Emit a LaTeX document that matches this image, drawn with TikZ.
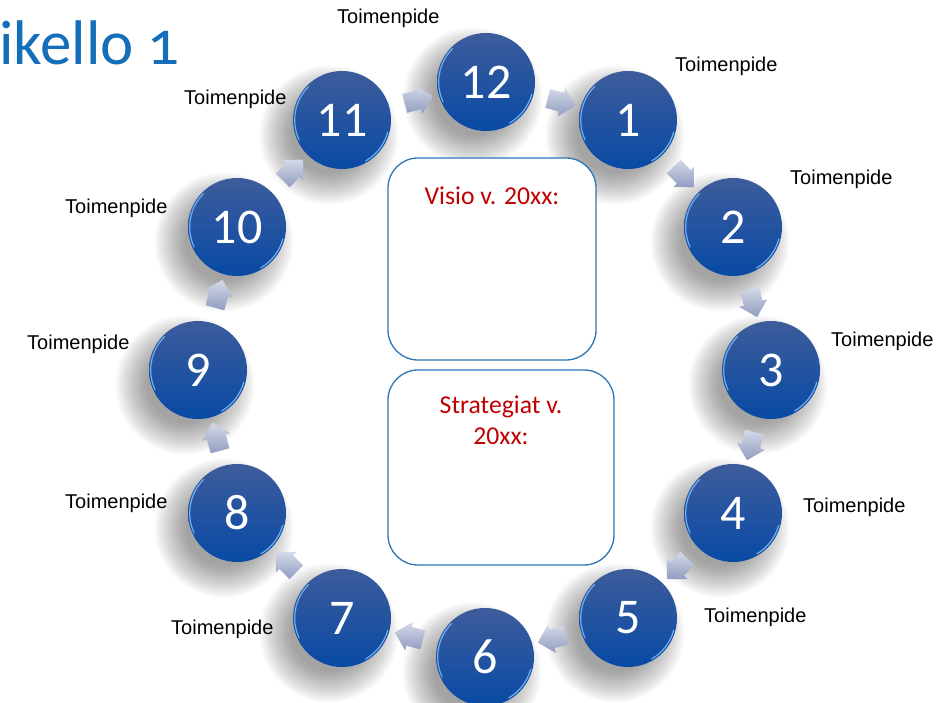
\documentclass[tikz,border=0pt]{standalone}
\usepackage{fontspec}
\setmainfont{Carlito}
\newfontfamily\labelfont{Liberation Sans}
\newfontfamily\titlefont[Numbers=OldStyle]{Carlito}
\usetikzlibrary{shapes.arrows,backgrounds,calc}
\definecolor{titleblue}{RGB}{20,110,185}
\definecolor{circtop}{RGB}{62,92,155}
\definecolor{circbot}{RGB}{8,74,165}
\definecolor{rimblue}{RGB}{110,175,240}
\definecolor{boxblue}{RGB}{46,117,182}
\definecolor{visred}{RGB}{192,0,0}
\definecolor{arrtop}{RGB}{212,217,232}
\definecolor{arrbot}{RGB}{145,156,192}
\definecolor{shadowgray}{RGB}{50,50,50}
\begin{document}
\begin{tikzpicture}[x=1pt,y=-1pt,
  num/.style={circle, minimum size=98pt, inner sep=0pt, top color=circtop, bottom color=circbot,
    text=white, font=\fontsize{50}{50}\selectfont},
  cshadow/.style={fill=shadowgray, fill opacity=0.024},
  lbl/.style={anchor=base west, inner sep=0pt, font=\labelfont\fontsize{20}{20}\selectfont},
  flow/.style={single arrow, sloped, allow upside down, minimum height=29pt,
    single arrow head extend=5pt, inner xsep=0pt, inner ysep=9.5pt, top color=arrtop, bottom color=arrbot, draw=none},
  rim/.style={rimblue, line width=1.2pt, line cap=round},
  panel/.style={draw=boxblue, line width=1.3pt, fill=white, rounded corners=30pt, inner sep=0pt},
  paneltext/.style={text=visred, font=\fontsize{25.7}{32}\selectfont, align=center, inner sep=0pt}]
\useasboundingbox (0,0) rectangle (946,703);
% title
\node[anchor=base west, inner sep=0pt, text=titleblue, font=\titlefont\fontsize{63}{63}\selectfont] (title) at (-1,65) {ikello 1};
% circles
\foreach \n/\x/\y in {12/486/82, 1/628/120, 2/733/227, 3/771/370, 4/733/513, 5/628/618,
  6/485/657, 7/342/618, 8/237/513, 9/198/370, 10/237/227, 11/342/120}
  \node[num] (c\n) at (\x,\y) {\n};
% soft shadows below everything
\begin{scope}[on background layer]
  \fill[white] (0,0) rectangle (946,703);
  \foreach \n in {12,1,2,3,4,5,6,7,8,9,10,11}
    \foreach \r in {38,39.5,...,70}
      \fill[cshadow] (c\n.center) ++(-13,15) circle[radius=\r];
\end{scope}
% rim highlights
\foreach \n in {12,1,2,3,4,5,6,7,8,9,10,11}{
  \draw[rim] (c\n.center) ++(-135:47.3) arc[start angle=-135, end angle=-205, radius=47.3];
  \draw[rim] (c\n.center) ++(15:47.3) arc[start angle=15, end angle=60, radius=47.3];
}
% arrows
\foreach \a/\b in {12/1, 1/2, 2/3, 3/4, 4/5, 5/6, 6/7, 7/8, 8/9, 9/10, 10/11, 11/12}
  \path (c\a) -- (c\b) node[flow, midway] (f\a) {};
% panels
\node[panel, minimum width=208pt, minimum height=202pt] (visio) at (492,259) {};
\node[paneltext, anchor=base] (visiot) at (492,205) {Visio v. 20xx:};
\node[panel, minimum width=226pt, minimum height=195pt] (strat) at (501,467.5) {};
\node[paneltext, anchor=base] (stratt) at (501,445) {Strategiat v.\\20xx:};
% labels
\node[lbl] (t12) at (337,24) {Toimenpide};
\node[lbl] (t1) at (675,72) {Toimenpide};
\node[lbl] (t2) at (790,185) {Toimenpide};
\node[lbl] (t3) at (831,347) {Toimenpide};
\node[lbl] (t4) at (803,512) {Toimenpide};
\node[lbl] (t5) at (704,622) {Toimenpide};
\node[lbl] (t7) at (171,634) {Toimenpide};
\node[lbl] (t8) at (65,508) {Toimenpide};
\node[lbl] (t9) at (27,350) {Toimenpide};
\node[lbl] (t10) at (65,214) {Toimenpide};
\node[lbl] (t11) at (184,105) {Toimenpide};
\end{tikzpicture}
\end{document}
